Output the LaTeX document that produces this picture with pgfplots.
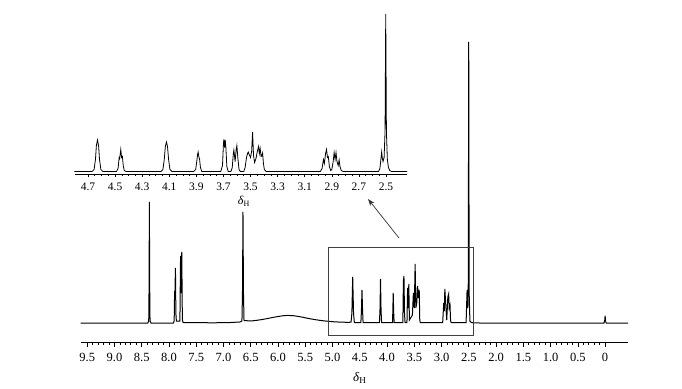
\documentclass[border=0pt]{standalone}
\usepackage{fontspec}
\setmainfont{Liberation Serif}
\usepackage{pgfplots}
\pgfplotsset{compat=1.18}
\usetikzlibrary{arrows.meta}
\begin{document}
\begin{tikzpicture}[x=1pt,y=1pt]
\path[use as bounding box] (0,0) rectangle (682,388);
% ---------- main spectrum ----------
\begin{axis}[
  at={(80.7pt,45.3pt)}, anchor=south west,
  scale only axis, width=547.3pt, height=300.7pt,
  xmin=-0.42, xmax=9.62, x dir=reverse,
  ymin=-19.7, ymax=281,
  axis x line=bottom, axis y line=none, axis line style={-,line width=0.7pt},
  clip=false,
  xtick={0,0.5,1.0,1.5,2.0,2.5,3.0,3.5,4.0,4.5,5.0,5.5,6.0,6.5,7.0,7.5,8.0,8.5,9.0,9.5},
  xticklabels={0,0.5,1.0,1.5,2.0,2.5,3.0,3.5,4.0,4.5,5.0,5.5,6.0,6.5,7.0,7.5,8.0,8.5,9.0,9.5},
  minor x tick num=4,
  tick align=outside, major tick length=4pt, minor tick length=2.2pt,
  tick style={line width=0.7pt, black},
  xticklabel style={font=\fontsize{12.5}{14}\selectfont, yshift=-3pt},
  xlabel={\textit{δ}\textsubscript{H}},
  xlabel style={font=\fontsize{13}{15}\selectfont, at={(axis cs:4.5,-19.7)}, anchor=north, yshift=-26pt},
]
\addplot[black, line width=1.0pt] coordinates {
(9.62,0) (8.39,0) (8.372,2) (8.365,40) (8.36,121) (8.355,40) (8.348,2) (8.33,0)
(7.92,0) (7.905,2) (7.897,32) (7.892,25) (7.882,55) (7.874,10) (7.865,2) (7.80,2)
(7.788,67) (7.777,30) (7.766,71) (7.755,3) (7.74,0.5) (7.2,0.2) (6.9,0.4) (6.7,1.0)
(6.662,2) (6.652,30) (6.643,111) (6.634,30) (6.624,2.5) (6.5,2.0) (6.4,2.6) (6.3,3.4)
(6.2,4.4) (6.1,5.5) (6.0,6.5) (5.9,7.3) (5.82,7.6) (5.7,7.2) (5.6,6.3) (5.5,5.2)
(5.4,4.1) (5.3,3.2) (5.2,2.4) (5.1,1.8) (5.0,1.3) (4.9,1.0) (4.8,0.8) (4.70,0.6)
(4.66,1) (4.645,10) (4.63,46) (4.615,10) (4.60,0.5) (4.48,0.5) (4.47,12) (4.46,33)
(4.45,14) (4.44,0.5) (4.14,0.5) (4.13,12) (4.12,44) (4.11,12) (4.10,0.5) (3.90,0.5)
(3.895,10) (3.887,30) (3.878,10) (3.87,0.5) (3.71,0.5) (3.70,42) (3.69,47) (3.68,10)
(3.67,0.5) (3.635,0.5) (3.623,35) (3.612,15) (3.601,39) (3.59,3) (3.535,8) (3.517,30)
(3.50,15) (3.485,59) (3.472,15) (3.455,20) (3.44,37) (3.425,25) (3.41,33) (3.40,3)
(3.39,0.3) (2.98,0.3) (2.96,20) (2.95,12) (2.94,34) (2.925,20) (2.905,3) (2.885,26)
(2.87,29) (2.86,15) (2.845,18) (2.835,2) (2.82,0.3) (2.55,0.3) (2.532,33) (2.52,15)
(2.510,40) (2.502,281) (2.494,30) (2.48,2) (2.45,0.3) (2.30,0) (0.02,0) (0.008,2)
(0.0,7.3) (-0.008,2) (-0.02,0) (-0.42,0)
};
\draw[black!75, line width=0.6pt] (axis cs:5.087,-12.7) rectangle (axis cs:2.424,75.3);
\end{axis}
% ---------- inset ----------
\begin{axis}[
  at={(75pt,214pt)}, anchor=south west,
  scale only axis, width=332pt, height=160pt,
  xmin=2.345, xmax=4.796, x dir=reverse,
  ymin=-2.5, ymax=157.5,
  axis x line=bottom, axis y line=none, axis line style={-,line width=0.6pt},
  clip=false,
  xtick={2.5,2.7,2.9,3.1,3.3,3.5,3.7,3.9,4.1,4.3,4.5,4.7},
  xticklabels={2.5,2.7,2.9,3.1,3.3,3.5,3.7,3.9,4.1,4.3,4.5,4.7},
  minor x tick num=3,
  tick align=outside, major tick length=3pt, minor tick length=2pt,
  tick style={line width=0.6pt, black},
  xticklabel style={font=\fontsize{11.5}{13}\selectfont, yshift=-2pt},
  xlabel={\textit{δ}\textsubscript{H}},
  xlabel style={font=\fontsize{12}{14}\selectfont, at={(axis cs:3.55,-2.5)}, anchor=north, yshift=-19pt},
]
\addplot[black, line width=0.8pt] coordinates {
(4.80,0) (4.67,0) (4.655,2) (4.645,12) (4.638,26) (4.630,31.5) (4.622,26) (4.615,12)
(4.605,2) (4.59,0) (4.49,0) (4.478,3) (4.470,14) (4.466,13) (4.458,22) (4.452,14)
(4.446,15) (4.440,6) (4.432,1) (4.42,0) (4.16,0) (4.147,2) (4.137,12) (4.129,25)
(4.121,29.5) (4.113,25) (4.105,12) (4.095,2) (4.08,0) (3.92,0) (3.905,2) (3.897,10)
(3.891,17) (3.887,19.5) (3.882,15) (3.876,12) (3.870,4) (3.86,0) (3.72,0) (3.707,6)
(3.700,28) (3.697,32) (3.692,24) (3.687,31.5) (3.683,26) (3.675,5) (3.665,0) (3.645,0)
(3.635,4) (3.627,18) (3.623,21.5) (3.614,10) (3.606,22) (3.601,26) (3.594,14) (3.585,2)
(3.575,0) (3.55,0) (3.540,4) (3.530,14) (3.522,18) (3.517,19.5) (3.510,17) (3.500,14)
(3.492,20) (3.485,39.5) (3.478,16) (3.470,9) (3.460,13) (3.450,20) (3.441,25) (3.435,18)
(3.429,23) (3.422,15) (3.416,16) (3.411,18.5) (3.405,8) (3.398,2) (3.385,0) (2.985,0)
(2.972,3) (2.962,12) (2.955,8) (2.946,18) (2.939,22) (2.932,14) (2.926,15) (2.918,5)
(2.908,1) (2.900,2) (2.890,10) (2.883,19) (2.876,12) (2.869,19) (2.862,10) (2.853,6)
(2.846,11.5) (2.840,5) (2.830,1) (2.815,0) (2.555,0) (2.545,3) (2.537,13) (2.532,19.5)
(2.528,14) (2.522,10) (2.514,14) (2.507,40) (2.502,157.5) (2.497,40) (2.490,12) (2.482,4)
(2.472,1) (2.46,0) (2.345,0)
};
\end{axis}
\draw[black!80, line width=0.7pt, -{Stealth[length=7pt,width=5pt]}] (399,150) -- (368,189);
\end{tikzpicture}
\end{document}
